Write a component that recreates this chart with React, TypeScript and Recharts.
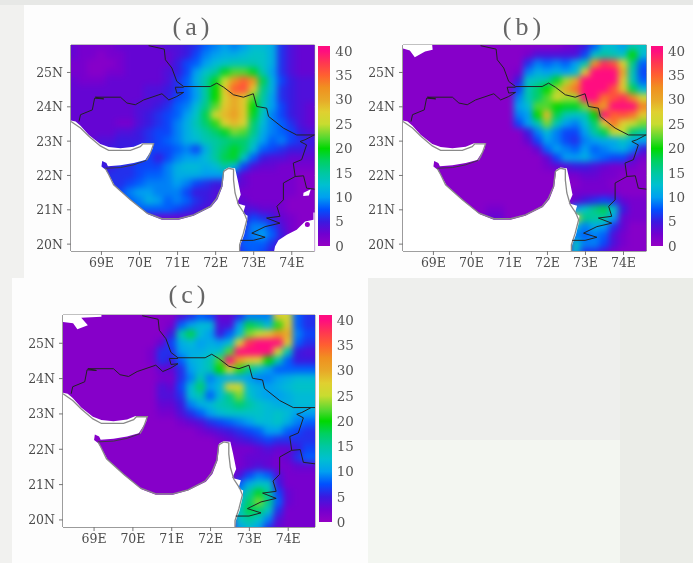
import React from 'react';
import { ScatterChart, Scatter, XAxis, YAxis, ReferenceLine, ReferenceArea, BarChart, Bar } from 'recharts';

const lons = [68.25,68.5,68.75,69,69.25,69.5,69.75,70,70.25,70.5,70.75,71,71.25,71.5,71.75,72,72.25,72.5,72.75,73,73.25,73.5,73.75,74,74.25,74.5];
const lats = [25.75,25.5,25.25,25,24.75,24.5,24.25,24,23.75,23.5,23.25,23,22.75,22.5,22.25,22,21.75,21.5,21.25,21,20.75,20.5,20.25,20,19.75];
const lonTicks = [69,70,71,72,73,74];
const latTicks = [20,21,22,23,24,25];
const barTicks = [0,5,10,15,20,25,30,35,40];
const barMax = 41;
const stopValues = [0,2.5,5,7.5,10,12.5,15,17.5,20,22,25,27.5,30,32.5,35,37.5,40];
const stopColors = ['#9400c4','#7000d0','#3a1ae0','#0050ff','#00a0f0','#00c0d0','#00c8a0','#00d060','#00d800','#50d830','#c8dc30','#e0d030','#e8a828','#f09020','#ff6030','#ff3850','#ff0d80'];

const gridA = [
[3,2,2,2,2,3,3,3,3,3,4,4,5,6,8,9,10,9,10,12,12,11,6,4,3,3],
[3,2,2,1,2,2,3,3,3,3,3,4,5,7,9,10,11,11,12,13,13,11,6,4,3,3],
[2,2,1,1,1,2,3,3,3,3,3,5,7,8,10,12,13,14,14,14,13,11,6,4,3,3],
[2,2,1,1,2,2,3,3,3,3,4,5,7,10,13,15,19,22,22,19,14,10,6,4,3,3],
[3,2,2,2,3,3,3,3,3,3,4,6,8,11,15,19,25,32,35,32,18,11,7,5,4,4],
[3,3,3,3,3,3,3,3,4,4,5,6,8,10,15,20,28,35,36,28,16,11,6,5,4,4],
[3,3,3,3,3,3,3,3,4,4,5,7,8,10,15,20,27,30,28,22,15,10,6,5,4,4],
[3,3,3,3,3,3,3,4,4,5,6,8,9,12,16,22,28,30,28,20,14,10,7,5,4,3],
[3,3,3,3,3,3,3,4,5,6,7,8,10,13,18,26,29,31,28,19,13,9,7,5,4,3],
[3,3,3,3,3,2,2,4,5,6,7,9,11,14,17,21,27,29,27,17,12,9,8,6,4,3],
[3,3,3,3,3,4,4,5,6,7,7,9,11,13,15,17,19,23,22,16,11,9,8,7,5,4],
[4,3,3,4,4,5,5,5,6,7,8,9,11,12,14,15,16,17,17,14,10,8,9,7,6,5],
[4,4,4,4,5,5,5,6,7,7,7,8,9,7,11,15,17,19,17,12,8,7,6,5,5,4],
[4,4,4,5,5,5,5,6,7,5,7,9,10,10,12,15,18,19,13,8,5,4,4,3,3,3],
[4,4,4,5,5,6,6,7,7,7,9,11,12,12,11,12,15,12,7,4,3,3,2,2,2,2],
[4,4,4,5,6,6,6,7,8,8,9,11,11,11,10,10,10,6,3,2,2,2,2,2,1,1],
[4,4,4,5,6,6,7,8,9,9,9,10,9,7,6,5,5,4,3,2,2,2,2,2,1,1],
[4,4,4,5,6,7,9,10,10,9,9,9,7,5,5,4,4,3,2,2,2,2,2,2,1,1],
[4,4,4,5,6,7,8,9,11,10,8,9,8,6,5,4,4,3,3,2,2,2,2,1,1,1],
[3,3,3,5,6,6,7,8,8,8,8,7,6,5,4,4,4,4,4,4,3,3,2,1,1,1],
[3,3,3,3,3,3,3,3,3,3,3,3,3,3,3,3,3,3,5,7,6,5,3,2,1,1],
[3,3,3,3,3,3,3,3,3,3,3,3,3,3,3,3,3,3,6,9,9,7,4,2,1,1],
[3,3,3,3,3,3,3,3,3,3,3,3,3,3,3,3,3,3,7,9,10,8,5,2,1,1],
[3,3,3,3,3,3,3,3,3,3,3,3,3,3,3,3,3,3,8,8,8,6,3,2,1,1],
[3,3,3,3,3,3,3,3,3,3,3,3,3,3,3,3,3,3,7,8,7,5,3,2,1,1],
];

const gridB = [
[1,1,1,1,1,1,1,1,1,1,1,1,1,1,1,1,1,2,3,5,8,12,12,10,14,13],
[1,1,1,1,1,1,1,1,1,1,1,1,1,2,4,4,4,4,4,7,13,15,14,13,20,12],
[1,1,1,1,1,1,1,1,1,1,1,1,1,6,9,8,9,8,10,14,32,38,36,27,16,8],
[1,1,1,1,1,1,1,1,1,1,1,1,2,9,11,10,11,10,12,28,50,56,52,30,14,7],
[1,1,1,1,1,1,1,1,1,1,1,1,5,13,14,15,19,24,30,44,58,58,48,28,14,8],
[1,1,1,1,1,1,1,1,1,1,1,1,7,14,17,20,24,30,34,52,60,50,36,28,18,12],
[1,1,1,1,1,1,1,1,1,1,1,1,9,14,17,22,26,24,24,52,54,34,36,38,33,26],
[1,1,1,1,1,1,1,1,1,1,1,1,10,12,22,22,20,19,19,23,34,31,40,50,40,33],
[1,1,1,1,1,1,1,1,1,1,1,1,9,10,20,29,18,14,13,14,20,46,35,36,34,28],
[1,1,1,1,1,1,1,1,1,1,1,1,7,10,14,23,14,10,9,12,17,27,34,27,25,23],
[1,1,1,1,1,1,1,1,1,1,1,1,1,5,9,12,9,7,7,10,15,18,25,25,17,15],
[1,1,1,1,1,1,1,1,1,1,1,1,1,3,7,10,9,7,6,9,10,11,11,13,11,10],
[1,1,1,1,1,1,1,1,1,1,1,1,1,1,3,8,10,9,8,10,8,9,10,11,9,5],
[1,1,1,1,1,1,1,1,1,1,1,1,1,1,1,3,7,10,10,11,9,8,7,7,4,2],
[1,1,1,1,1,1,1,1,1,1,1,1,1,1,1,2,3,4,5,5,4,3,2,2,2,1],
[1,1,1,1,1,1,1,1,1,1,1,1,1,1,1,1,1,2,2,3,3,2,2,1,1,1],
[1,1,1,1,1,1,1,1,1,1,1,1,1,1,1,1,1,1,1,2,2,2,1,1,1,1],
[1,1,1,1,1,1,1,1,1,1,1,1,1,1,1,1,1,1,2,2,2,2,2,1,1,1],
[1,1,1,1,1,1,1,1,1,1,1,1,1,1,1,1,1,1,3,5,6,7,6,3,2,2],
[1,1,1,1,1,1,1,1,1,2,2,1,1,1,1,1,1,1,10,13,16,18,13,5,2,2],
[1,1,1,1,1,1,1,1,1,3,3,1,1,1,1,1,1,1,27,16,15,15,10,3,2,2],
[1,1,1,1,1,1,1,1,1,1,1,1,1,1,1,1,1,1,12,9,11,10,6,3,1,1],
[1,1,1,1,1,1,1,1,1,1,1,1,1,1,1,1,1,1,9,8,9,8,4,2,1,1],
[1,1,1,1,1,1,1,1,1,1,1,1,1,1,1,1,1,1,13,9,9,7,4,2,1,1],
[1,1,1,1,1,1,1,1,1,1,1,1,1,1,1,1,1,1,12,6,6,4,2,1,1,1],
];

const gridC = [
[1,1,1,1,1,1,1,1,1,1,1,1,4,6,8,7,3,3,6,9,9,9,28,26,8,6],
[1,1,1,1,1,1,1,1,1,1,1,2,8,10,12,12,4,4,10,18,16,12,21,28,8,6],
[1,1,1,1,1,1,1,1,1,1,1,5,14,18,12,10,5,8,12,23,25,28,32,30,9,7],
[1,1,1,1,1,1,1,1,1,1,3,7,11,12,10,11,10,12,27,38,42,50,42,28,8,6],
[1,1,1,1,1,1,1,1,1,2,6,6,10,11,11,12,13,22,42,46,48,40,26,14,5,4],
[1,1,1,1,1,1,1,1,1,2,6,5,8,11,12,14,22,44,31,28,27,20,14,8,5,5],
[1,1,1,1,1,1,1,1,1,1,3,3,6,10,12,14,20,25,21,16,13,10,8,8,8,8],
[1,1,1,1,1,1,1,1,1,1,2,2,6,9,14,9,11,11,11,10,9,9,10,11,12,12],
[1,1,1,1,1,1,1,1,1,1,4,3,7,12,17,10,12,27,26,12,11,10,11,12,13,13],
[1,1,1,1,1,1,1,1,1,1,4,4,6,12,14,8,12,16,23,13,11,10,10,11,12,12],
[1,1,1,1,1,1,1,1,1,1,3,3,5,9,11,12,14,15,17,15,13,12,11,11,12,12],
[1,1,1,1,1,1,1,1,1,1,2,2,4,6,8,10,12,13,13,13,13,12,13,12,10,10],
[1,1,1,1,1,1,1,1,1,1,1,1,2,3,4,6,7,8,9,10,12,12,13,11,9,8],
[1,1,1,1,1,1,1,1,1,1,1,1,1,1,2,3,4,5,6,7,8,10,10,8,7,6],
[1,1,1,1,1,1,1,1,1,1,1,1,1,1,1,1,2,3,4,5,6,7,6,6,6,6],
[1,1,1,1,1,1,1,1,1,1,1,1,1,1,1,1,1,2,2,2,3,4,3,3,5,7],
[1,1,1,1,1,1,1,1,1,1,1,1,1,1,1,1,1,1,2,3,3,3,2,3,6,8],
[1,1,1,1,1,1,1,1,1,1,1,1,1,1,1,1,1,1,2,3,4,3,2,2,3,3],
[1,1,1,1,1,1,1,1,1,1,1,1,1,1,1,1,1,1,4,7,9,8,4,2,2,2],
[1,1,1,1,1,1,1,1,1,1,1,1,1,1,1,1,1,1,8,11,13,13,5,2,2,2],
[1,1,1,1,1,1,1,1,1,1,1,1,1,1,1,1,1,1,10,15,19,15,7,3,2,2],
[1,1,1,1,1,1,1,1,1,1,1,1,1,1,1,1,1,1,12,17,23,16,8,3,2,2],
[1,1,1,1,1,1,1,1,1,1,1,1,1,1,1,1,1,1,13,18,17,13,6,2,2,2],
[1,1,1,1,1,1,1,1,1,1,1,1,1,1,1,1,1,1,13,15,13,9,4,2,2,2],
[1,1,1,1,1,1,1,1,1,1,1,1,1,1,1,1,1,1,10,12,10,6,3,2,2,2],
];

const pts = (list: number[][]) => list.map(([lon, lat]) => ({ lon, lat }));

const coastLine = pts([[68.2,23.57],[68.45,23.38],[68.67,23.14],[68.97,22.86],[69.19,22.73],[69.76,22.73],[70.02,22.84],[70.09,22.92],[70.37,22.92],[70.3,22.7],[70.24,22.55],[70.18,22.44]]);
const coastSouth = pts([[69.1,22.21],[69.17,22.07],[69.32,21.73],[69.76,21.29],[70.2,20.9],[70.59,20.74],[71.03,20.74],[71.42,20.85],[71.86,21.1],[72.03,21.34],[72.16,21.68],[72.21,22.12],[72.34,22.21],[72.47,22.18],[72.47,21.87],[72.51,21.49],[72.6,21.15],[72.75,20.9],[72.82,20.71],[72.73,20.32],[72.63,19.98],[72.63,19.8]]);
const gulfShore = pts([[70.18,22.44],[69.85,22.31],[69.5,22.23],[69.1,22.21]]);
const seaMask = pts([[68,23.6],[68.2,23.6],[68.32,23.57],[68.45,23.45],[68.67,23.18],[68.97,22.92],[69.19,22.83],[69.5,22.79],[69.85,22.84],[70.07,22.94],[70.37,22.94],[70.34,22.77],[70.24,22.6],[70.15,22.45],[69.85,22.36],[69.5,22.3],[69.17,22.27],[69.13,22.36],[69.02,22.42],[69,22.26],[69.11,22.17],[69.19,22.02],[69.35,21.7],[69.79,21.26],[70.22,20.87],[70.59,20.71],[71.03,20.71],[71.42,20.83],[71.88,21.08],[72.05,21.31],[72.18,21.68],[72.23,22.17],[72.34,22.23],[72.51,22.21],[72.58,21.87],[72.66,21.44],[72.56,21.19],[72.78,21.12],[72.72,20.9],[72.84,20.83],[72.82,20.61],[72.75,20.27],[72.65,19.98],[72.62,19.7],[68,19.7]]);
const borderMain = pts([[70.24,25.78],[70.65,25.68],[70.68,25.37],[70.85,25.13],[70.98,24.74],[71.16,24.59],[71.86,24.59],[72.03,24.69],[72.21,24.57],[72.47,24.35],[72.73,24.28],[72.99,24.38],[73.08,24.01],[73.34,23.96],[73.39,23.72],[73.78,23.38],[74.13,23.18],[74.75,23.18]]);
const borderEast = pts([[74.59,23.18],[74.35,23.04],[74.22,22.99],[74.39,22.89],[74.26,22.46],[74.04,22.36],[74.09,21.97],[73.78,21.78],[73.78,21.29],[73.61,21.1],[73.69,20.81],[73.34,20.76],[73.69,20.61],[73.3,20.51],[72.95,20.32],[73.3,20.2],[72.99,20.11],[72.65,20.11]]);
const borderSouth = pts([[74.09,21.97],[74.31,21.99],[74.39,21.63],[74.75,21.58]]);
const borderWest = pts([[71.16,24.57],[70.94,24.57],[70.98,24.4],[71.16,24.42],[70.98,24.3],[70.77,24.2],[70.59,24.38],[70.11,24.2],[69.89,24.06],[69.67,24.11],[69.5,24.28],[68.84,24.28],[69.06,24.23],[68.82,24.25],[68.76,23.91],[68.45,23.77],[68.41,23.57]]);
const gapA1 = pts([[73.52,19.7],[73.56,19.93],[73.65,20.11],[73.87,20.27],[74.13,20.42],[74.35,20.66],[74.57,20.71],[74.57,20.92],[74.8,20.92],[74.8,19.7]]);
const gapA2 = pts([[74.31,21.5],[74.5,21.6],[74.45,21.42],[74.3,21.4]]);
const dotA = pts([[74.41,20.57]]);
const gapB = pts([[68,26],[68.95,26],[68.98,25.66],[68.78,25.61],[68.51,25.44],[68.38,25.64],[68.2,25.7],[68,25.7]]);
const gapC = pts([[68,25.6],[68.2,25.6],[68.46,25.57],[68.57,25.4],[68.84,25.51],[68.67,25.72],[69.19,25.75],[69.19,26],[68,26]]);

const colorOf = (v: number) => {
  const c = Math.min(40, Math.max(0, v));
  let i = 0;
  while (i < stopValues.length - 2 && c > stopValues[i + 1]) i++;
  const t = (c - stopValues[i]) / (stopValues[i + 1] - stopValues[i]);
  const rgb = (h: string) => [1, 3, 5].map((k) => parseInt(h.slice(k, k + 2), 16));
  const a = rgb(stopColors[i]);
  const b = rgb(stopColors[i + 1]);
  return `rgb(${a.map((x, k) => Math.round(x + (b[k] - x) * t)).join(',')})`;
};

const tableOf = (grid: number[][]) =>
  lats.flatMap((lat, r) => lons.map((lon, c) => ({ lon, lat, value: grid[r][c] })));

const tickStyle = { fontSize: 12.5, fill: '#4c4c4c', fontFamily: 'DejaVu Serif' };
const barTickStyle = { fontSize: 13.5, fill: '#555', fontFamily: 'DejaVu Serif' };
const noDot = () => <g />;

type PanelProps = {
  id: string; title: string; grid: number[][]; x: number; y: number; w: number; h: number;
  lonMax: number; gaps: { lon: number; lat: number }[][]; dots?: { lon: number; lat: number }[];
  barX: number; barY: number; barW: number; barH: number; titleX: number; titleY: number;
};

function Panel({ id, title, grid, x, y, w, h, lonMax, gaps, dots, barX, barY, barW, barH, titleX, titleY }: PanelProps) {
  const cellW = (w / (lonMax - 68.2)) * 0.25 + 1;
  const cellH = (h / 6) * 0.25 + 1;
  const cell = (p: any) => {
    const d = p.payload ?? p;
    const left = d.lon === lons[0] ? 14 : 0;
    const right = d.lon === lons[lons.length - 1] ? 14 : 0;
    const top = d.lat === lats[0] ? 14 : 0;
    const bottom = d.lat === lats[lats.length - 1] ? 14 : 0;
    return <rect x={p.cx - cellW / 2 - left} y={p.cy - cellH / 2 - top} width={cellW + left + right} height={cellH + top + bottom} fill={colorOf(d.value)} />;
  };
  const line = (data: any[], stroke: string, sw: number) => (
    <Scatter data={data} fill={stroke} shape={noDot} line={{ stroke, strokeWidth: sw, fill: 'none' }} lineType="joint" isAnimationActive={false} />
  );
  const patch = (data: any[], i: number) => (
    <Scatter key={i} data={data} fill="#fff" shape={noDot} line={{ stroke: 'none', fill: '#fff' }} lineType="joint" isAnimationActive={false} />
  );
  const pad = 8;
  return (
    <>
      <div style={{ position: 'absolute', left: titleX - 40, top: titleY - 18, width: 80, height: 36, lineHeight: '36px', textAlign: 'center', fontFamily: 'Liberation Serif', fontSize: 26, letterSpacing: 4, color: '#666' }}>{title}</div>
      <div style={{ position: 'absolute', left: x - 50, top: y - 5 }}>
        <ScatterChart width={w + 55} height={h + 35} margin={{ top: 5, right: 5, bottom: 0, left: 0 }}>
          <XAxis type="number" dataKey="lon" domain={[68.2, lonMax]} ticks={lonTicks} allowDataOverflow height={30} tickSize={4} tickMargin={3} stroke="#777" tick={tickStyle} tickFormatter={(v) => `${v}E`} />
          <YAxis type="number" dataKey="lat" domain={[19.8, 25.8]} ticks={latTicks} allowDataOverflow width={50} tickSize={4} tickMargin={4} stroke="#777" tick={tickStyle} tickFormatter={(v) => `${v}N`} />
          <Scatter className="heat" data={tableOf(grid)} shape={cell} isAnimationActive={false} />
          {patch(seaMask, 100)}
          {gaps.map(patch)}
          {dots ? <Scatter data={dots} fill="#9400c4" shape={(p: any) => <circle cx={p.cx} cy={p.cy} r={2.5} fill="#9400c4" />} isAnimationActive={false} /> : null}
          {lonTicks.map((t) => <ReferenceLine key={`x${t}`} x={t} stroke="#cfcfcf" strokeOpacity={0.55} strokeDasharray="1 8" />)}
          {latTicks.map((t) => <ReferenceLine key={`y${t}`} y={t} stroke="#cfcfcf" strokeOpacity={0.55} strokeDasharray="1 8" />)}
          {line(coastLine, '#8a8a8a', 1.3)}
          {line(coastSouth, '#8a8a8a', 1.3)}
          {line(gulfShore, '#3a3a3a', 0.9)}
          {line(borderMain, '#222', 1)}
          {line(borderEast, '#222', 1)}
          {line(borderSouth, '#222', 1)}
          {line(borderWest, '#222', 1)}
          <ReferenceArea x1={68.2} x2={lonMax} y1={19.8} y2={25.8} fill="none" stroke="#858585" strokeWidth={1} />
        </ScatterChart>
      </div>
      <div style={{ position: 'absolute', left: barX, top: barY - pad }}>
        <BarChart width={barW + 34} height={barH + pad * 2} data={[{ name: 'bar', top: barMax }]} margin={{ top: pad, right: 0, bottom: pad, left: 0 }} barCategoryGap={0} barGap={0}>
          <defs>
            <linearGradient id={`cb-${id}`} x1="0" y1="1" x2="0" y2="0">
              {stopValues.map((v, i) => <stop key={v} offset={v / barMax} stopColor={stopColors[i]} />)}
            </linearGradient>
          </defs>
          <XAxis dataKey="name" hide />
          <YAxis orientation="right" type="number" domain={[0, barMax]} ticks={barTicks} allowDataOverflow width={34} axisLine={false} tickLine={false} tickMargin={-1} tick={barTickStyle} interval={0} />
          <Bar dataKey="top" fill={`url(#cb-${id})`} isAnimationActive={false} />
        </BarChart>
      </div>
    </>
  );
}

const block = (left: number, top: number, width: number, height: number, background: string) => (
  <div style={{ position: 'absolute', left, top, width, height, background }} />
);

export default function App() {
  return (
    <div style={{ position: 'absolute', left: 0, top: 0, width: 693, height: 563, overflow: 'hidden', background: '#f1f1ef' }}>
      <style>{`.heat { filter: blur(3.2px); } svg { overflow: hidden; }`}</style>
      {block(0, 0, 693, 5, '#e7e8e6')}
      {block(24, 5, 669, 273, '#fdfdfd')}
      {block(12, 278, 356, 285, '#fdfdfd')}
      {block(368, 278, 252, 162, '#eeefed')}
      {block(368, 440, 252, 123, '#f3f6f1')}
      {block(620, 278, 73, 285, '#ebede8')}
      <div style={{ position: 'absolute', left: 0, top: 0, width: 693, height: 563, filter: 'blur(0.45px)' }}>
        <Panel id="a" title="(a)" grid={gridA} x={70.7} y={45.3} w={243.6} h={206} lonMax={74.6} gaps={[gapA1, gapA2]} dots={dotA} barX={317.7} barY={46} barW={12.3} barH={200} titleX={193} titleY={27} />
        <Panel id="b" title="(b)" grid={gridB} x={403} y={45.3} w={243.3} h={206} lonMax={74.6} gaps={[gapB]} barX={650.7} barY={46} barW={12} barH={200} titleX={524} titleY={27} />
        <Panel id="c" title="(c)" grid={gridC} x={63.3} y={315} w={252} h={212} lonMax={74.69} gaps={[gapC]} barX={319.3} barY={315} barW={12.7} barH={207} titleX={189} titleY={295} />
      </div>
    </div>
  );
}
